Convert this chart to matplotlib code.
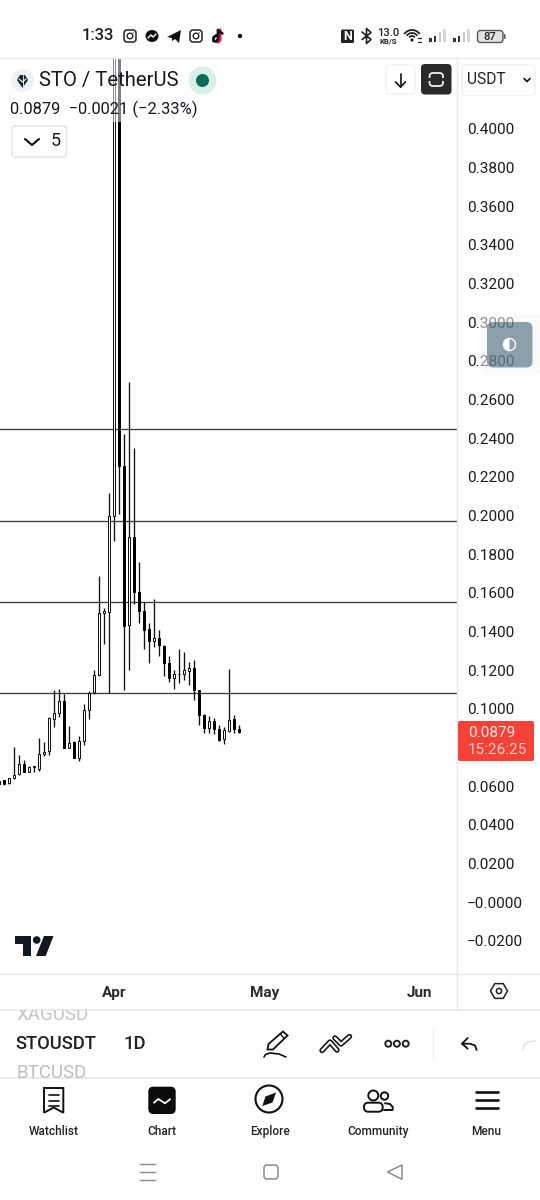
import numpy as np
import pandas as pd
import matplotlib
matplotlib.use("Agg")
import matplotlib.pyplot as plt
import matplotlib.dates as mdates
from matplotlib.patches import Rectangle, Circle, FancyBboxPatch, Polygon, Wedge, Arc, Ellipse

plt.rcParams['font.family'] = ['Roboto', 'DejaVu Sans']

opens = [.0626,.0631,.0614,.0640,.0662,.0717,.0674,.0698,.0691,.0765,.0781,.0950,.0981,.1039,.0798,.0829,.0748,.0832,.0993,.1086,
         .1174,.1498,.1501,.1996,.4800,.2254,.1432,.1889,.1604,.1504,.1411,.1351,.1366,.1325,.1239,.1162,.1182,.1182,.1198,
         .1213,.1096,.0970,.0903,.0936,.0894,.0843,.0886,.0946,.0898]
closes = [.0610,.0610,.0640,.0660,.0717,.0674,.0700,.0702,.0769,.0779,.0953,.0981,.1039,.0800,.0826,.0748,.0832,.0993,.1084,.1174,
          .1498,.1506,.1996,.4800,.2254,.1428,.1889,.1604,.1506,.1410,.1351,.1365,.1329,.1239,.1162,.1182,.1180,.1199,.1213,
          .1096,.0967,.0903,.0936,.0894,.0838,.0893,.0945,.0898,.0879]
highs = [.0628,.0633,.0641,.0803,.0764,.0738,.0705,.0703,.0851,.0829,.0958,.1100,.1105,.1075,.0911,.0832,.0860,.1027,.1091,.1199,
         .1687,.1524,.2118,.4900,.5000,.2420,.2690,.2351,.1759,.1553,.1446,.1570,.1406,.1329,.1273,.1199,.1312,.1294,.1242,
         .1251,.1100,.0976,.0962,.0955,.0919,.0906,.1205,.0967,.0915]
lows = [.0605,.0605,.0613,.0636,.0659,.0672,.0671,.0671,.0677,.0756,.0760,.0906,.0958,.0796,.0796,.0747,.0729,.0812,.0950,.1079,
        .1171,.1337,.1084,.1866,.2006,.1100,.1199,.1544,.1445,.1312,.1237,.1320,.1273,.1168,.1139,.1105,.1134,.1151,.1126,
        .1048,.0915,.0875,.0875,.0872,.0832,.0820,.0880,.0875,.0876]
start_date = "2025-03-09"
hlines = [0.2448, 0.1972, 0.1553, 0.1080]
price_ticks = [0.40,0.38,0.36,0.34,0.32,0.30,0.28,0.26,0.24,0.22,0.20,0.18,0.16,0.14,0.12,0.10,0.06,0.04,0.02,0.0,-0.02]
price_labels = ["0.4000","0.3800","0.3600","0.3400","0.3200","0.3000","0.2800","0.2600","0.2400","0.2200","0.2000",
                "0.1800","0.1600","0.1400","0.1200","0.1000","0.0600","0.0400","0.0200","\u22120.0000","\u22120.0200"]

W, H = 540, 1200
fig = plt.figure(figsize=(5.4, 12), dpi=100, facecolor="white")
ax = fig.add_axes([0, (H-973)/H, 456.5/W, 915/H])
dates = pd.date_range(start_date, periods=len(opens))
x = mdates.date2num(dates)
o, c, h, l = map(np.array, (opens, closes, highs, lows))
ax.vlines(x, l, h, color="#111111", lw=0.95, zorder=2)
up = c >= o
ax.bar(x[up], (c-o)[up], bottom=o[up], width=0.47, facecolor="white", edgecolor="#111111", lw=0.72, zorder=3)
ax.bar(x[~up], (c-o)[~up], bottom=o[~up], width=0.47, facecolor="#000000", edgecolor="#000000", lw=0.72, zorder=3)
for v in hlines:
    ax.axhline(v, color="#3c3c3c", lw=0.95, zorder=1)
ax.set_ylim(-0.03663, 0.4367)
ax.yaxis.tick_right()
ax.set_yticks(price_ticks)
ax.set_yticklabels(price_labels, fontsize=11.1, color="#1c1c1c")
ax.tick_params(axis="y", length=0, pad=7.6)
ax.xaxis.set_major_locator(mdates.MonthLocator())
ax.xaxis.set_major_formatter(mdates.DateFormatter("%b"))
ax.tick_params(axis="x", length=0, pad=9.2, labelsize=11, labelcolor="#2a2a2a")
apr1 = mdates.date2num(pd.Timestamp("2025-04-01"))
ax.set_xlim(apr1-114.3/5, apr1+(456.5-114.3)/5)
for t in ax.get_xticklabels():
    t.set_fontweight("bold")
for s in ax.spines.values():
    s.set_visible(False)
ax.patch.set_alpha(0)

# overlay in pixel coordinates
ov = fig.add_axes([0, 0, 1, 1], zorder=5)
ov.set_xlim(0, W); ov.set_ylim(H, 0); ov.axis("off"); ov.patch.set_alpha(0)

INK = "#131722"
def rr(x0, y0, x1, y1, r=3, fc="none", ec="none", lw=1, alpha=None, z=3):
    p = FancyBboxPatch((x0+r, y0+r), x1-x0-2*r, y1-y0-2*r, boxstyle=f"round,pad={r},rounding_size={r}",
                       fc=fc, ec=ec, lw=lw, alpha=alpha, zorder=z, mutation_aspect=1)
    ov.add_patch(p); return p
def line(xs, ys, color="#111111", lw=1.2, z=4, **k):
    ov.plot(xs, ys, color=color, lw=lw, zorder=z, solid_capstyle="round", solid_joinstyle="round", **k)
def txt(x, y, s, size=11, color="#131722", ha="left", weight="normal", z=6, **k):
    return ov.text(x, y, s, fontsize=size, color=color, ha=ha, va="center", fontweight=weight, zorder=z, **k)

# frame lines
SEP = "#e9e9e9"
line([0, W], [58, 58], SEP, 1.0, 2)
line([457, 457], [58, 1009], SEP, 1.0, 2)
line([0, W], [973.5, 973.5], SEP, 1.0, 2)
line([0, W], [1009.5, 1009.5], SEP, 1.2, 2)
line([0, W], [1078, 1078], SEP, 1.2, 2)

# status bar
txt(97.5, 36, "1:33", 12, "#222222", ha="center", weight="medium")
for cx in (130, 196):
    rr(cx-6, 30, cx+6, 42, r=3, ec="#222222", lw=1.1)
    ov.add_patch(Circle((cx, 36), 2.8, fc="none", ec="#222222", lw=1.0, zorder=4))
    ov.add_patch(Circle((cx+3.2, 32.8), 0.6, fc="#222222", ec="none", zorder=4))
ov.add_patch(Ellipse((152, 36), 13, 12, fc="#111111", ec="none", zorder=4))
line([148, 151, 153, 156], [38, 35, 37, 34], "white", 1.0, 5)
ov.add_patch(Polygon([[167, 37], [181, 30], [179, 43], [175, 39], [172, 41], [172, 38]], fc="#111111", ec="none", zorder=4))
line([220, 220, 218], [30, 40, 42], "#ee1d52", 2.3, 3)
line([218, 218, 216, 213.5, 213.5, 216], [30, 39, 41.5, 41, 37.5, 35.5], "#111111", 2.0, 4)
line([218.5, 222.5], [31, 33.5], "#111111", 1.8, 4)
ov.add_patch(Circle((240, 36), 2.2, fc="#111111", ec="none", zorder=4))
# right status
rr(341, 29.5, 354, 43, r=1.5, fc="#222222")
txt(347.5, 36.5, "N", 9, "white", ha="center", weight="bold")
line([362, 371, 366.5, 366.5, 371, 362], [32, 39.5, 43.5, 28.5, 32.5, 39.5], "#222222", 1.2)
txt(388, 33, "13.0", 8, "#222222", ha="center", weight="medium")
txt(388.5, 41.5, "KB/S", 5.6, "#222222", ha="center", weight="bold")
for r_ in (9.5, 6.5, 3.5):
    ov.add_patch(Arc((412, 39.5), r_*2, r_*2, theta1=215, theta2=325, ec="#222222", lw=1.3, zorder=4))
ov.add_patch(Circle((412, 40), 1.6, fc="#222222", ec="none", zorder=4))
line([418, 421], [37.5, 37.5], "#222222", 0.9); line([418, 421], [41.5, 41.5], "#222222", 0.9)
for base in (429, 453):
    for i, (hh, col) in enumerate(((4, "#333333"), (6, "#333333"), (10, "#c9c9c9"), (13, "#d5d5d5"))):
        ov.add_patch(Rectangle((base + i*4.8, 42-hh), 2.6, hh, fc=col, ec="none", zorder=4))
rr(477.5, 30.5, 503, 42.5, r=3, ec="#555555", lw=1.0, fc="#e3e3e3")
rr(504, 34, 505.5, 39, r=0.7, fc="#555555")
txt(490, 36.5, "87", 8, "#222222", ha="center", weight="medium")

# legend overlay (semi-transparent over candles)
ov.add_patch(Rectangle((105, 59), 90, 63, fc="white", alpha=0.5, ec="none", zorder=2))
ov.add_patch(Circle((22.5, 80.5), 11.5, fc="#eef1f7", ec="none", zorder=3))
ov.add_patch(Polygon([[17, 80], [20, 75], [25, 75], [28, 80], [22.5, 88]], fc="#222222", ec="none", zorder=4))
line([19, 22.5, 26], [79, 82, 79], "white", 0.8, 5); line([22.5, 22.5], [75, 87], "white", 0.6, 5)
txt(39, 80.5, "STO / TetherUS", 14.6, INK)
ov.add_patch(Circle((202.5, 80.5), 14, fc="#d9efea", ec="none", zorder=3))
ov.add_patch(Circle((202.5, 80.5), 6.5, fc="#0b6b58", ec="none", zorder=4))
txt(10, 109, "0.0879  \u22120.0021 (\u22122.33%)", 11.9, INK)
rr(12, 126, 66.5, 157, r=3, fc="white", ec="#e4e4e4", lw=1.0)
line([25, 32, 39], [139, 145, 139], "#111111", 1.5)
txt(56, 141.5, "5", 13, INK, ha="center")

# right buttons
rr(386, 65, 415, 94, r=4, fc="white", ec="#f0f0f0", lw=1.0)
line([400.5, 400.5], [74, 87], "#111111", 1.2); line([395.5, 400.5, 405.5], [82, 87, 82], "#111111", 1.2)
rr(421, 64, 451.5, 94.5, r=4, fc="#2a2a2a")
rr(429.5, 73, 443, 86, r=3.5, ec="#f0f0f0", lw=1.3, z=4)
ov.add_patch(Rectangle((427, 78), 18, 3, fc="#2a2a2a", ec="none", zorder=5))
rr(462, 65, 535, 95.5, r=4, fc="white", ec="#f0f0f0", lw=1.0)
txt(467, 79.5, "USDT", 11.2, "#222222")
line([524, 527, 530], [78.5, 81.5, 78.5], "#111111", 1.2)

# floating theme button
rr(480, 314, 545, 375, r=10, fc="#f6f7f8", ec="none", alpha=0.55, z=1)
rr(487, 322, 532.5, 367.5, r=6, fc="#1d475d", alpha=0.5, z=7)
ov.add_patch(Circle((509.5, 344.5), 6, fc="none", ec="white", lw=1.0, zorder=8))
ov.add_patch(Wedge((509.5, 344.5), 6, 90, 270, fc="white", ec="none", zorder=8))

# last price badge
rr(458, 721, 534, 761, r=2, fc="#f44336")
txt(468, 733, "0.0879", 11, "#ffe9e6")
txt(468, 750.5, "15:26:25", 11, "#ffd0ca")

# tradingview logo
ov.add_patch(Polygon([[15, 936], [31, 936], [31, 956], [22.7, 956], [22.7, 944.3], [15, 944.3]], fc="#131722", ec="none", zorder=4))
ov.add_patch(Circle((36.7, 940), 3.8, fc="#131722", ec="none", zorder=4))
ov.add_patch(Polygon([[44, 936], [53.5, 936], [45.7, 956], [36, 956]], fc="#131722", ec="none", zorder=4))

# settings hexagon
hexx = [499+8.5*np.cos(a) for a in np.deg2rad([0, 60, 120, 180, 240, 300])]
hexy = [991+8.5*np.sin(a) for a in np.deg2rad([0, 60, 120, 180, 240, 300])]
ov.add_patch(Polygon(np.c_[hexx, hexy], fc="none", ec="#222222", lw=1.1, zorder=4))
ov.add_patch(Circle((499, 991), 2.6, fc="none", ec="#222222", lw=1.1, zorder=4))

# symbol picker strip
clip_a = Rectangle((0, 1010), W, 68, transform=ov.transData)
t1 = txt(16, 1014.5, "XAGUSD", 13.5, "#c4c4c4")
t2 = txt(16, 1073.5, "BTCUSD", 13.5, "#bdbdbd")
for t_ in (t1, t2):
    t_.set_clip_on(True); t_.set_clip_path(clip_a)
txt(15.5, 1044, "STOUSDT", 13.2, "#222222", weight="medium")
txt(123, 1044, "1D", 13.2, "#222222", weight="medium")
# pen
ov.add_patch(Polygon([[267.5, 1049.5], [268.5, 1044], [283, 1031.5], [287.5, 1035.5], [273, 1049.5]], fc="none", ec="#111111", lw=1.3, zorder=4))
line([280, 284.5], [1033.7, 1038.7], "#111111", 1.0)
line([264, 265.5, 270, 279, 286], [1057, 1054.5, 1053, 1054, 1057], "#111111", 1.2)
# trend chevrons
line([322, 330, 337], [1050.5, 1042, 1050], "#111111", 3.9)
line([322, 330, 337], [1050.5, 1042, 1050], "white", 1.6, 5)
line([335, 341, 349.5], [1038, 1044, 1036.5], "#111111", 3.9)
line([335, 341, 349.5], [1038, 1044, 1036.5], "white", 1.6, 5)
for cx in (388.3, 396.9, 405.7):
    ov.add_patch(Circle((cx, 1043.7), 3.0, fc="none", ec="#222222", lw=1.4, zorder=4))
line([432.7, 432.7], [1030, 1058], "#eeeeee", 1.0, 2)
line([467.7, 462, 467.7], [1038, 1043.7, 1048.7], "#111111", 1.3)
line([462, 470, 475, 476.7], [1043.7, 1043.7, 1045.5, 1050], "#111111", 1.3)
line([523, 524, 529, 535], [1050, 1045, 1041.5, 1041], "#e2e2e2", 1.1)

# bottom nav
nav_x = [54, 162, 270, 378, 486]
nav_labels = ["Watchlist", "Chart", "Explore", "Community", "Menu"]
for nx, lab in zip(nav_x, nav_labels):
    txt(nx, 1131.5, lab, 8.6, "#222222", ha="center", weight="medium")
ov.add_patch(Polygon([[44, 1088], [63.3, 1088], [63.3, 1112.7], [53.7, 1107.5], [44, 1112.7]], fc="none", ec="#111111", lw=1.4, zorder=4))
for yy in (1095, 1100.5, 1106):
    line([48.5, 59], [yy, yy], "#111111", 1.2)
rr(148.3, 1086.7, 175.7, 1114, r=5, fc="#0c0c0c")
line([154, 158.3, 165, 170], [1102.7, 1099, 1103.3, 1099.3], "white", 1.3, 5)
ov.add_patch(Circle((269, 1099), 13.5, fc="none", ec="#111111", lw=1.5, zorder=4))
ov.add_patch(Polygon([[262.3, 1106], [265.5, 1096.5], [276, 1092.5], [272.5, 1102.5]], fc="#111111", ec="none", zorder=4))
ov.add_patch(Circle((373.3, 1095.5), 5, fc="none", ec="#111111", lw=1.4, zorder=4))
ov.add_patch(Circle((384.5, 1096), 3.7, fc="none", ec="#111111", lw=1.4, zorder=4))
line([385, 390, 392.7, 392.7, 384], [1103.3, 1104, 1107, 1110, 1110], "#111111", 1.4)
rr(364, 1102.7, 382.7, 1111.7, r=4.3, fc="white", ec="#111111", lw=1.4, z=5)
for yy in (1092.3, 1100, 1108.3):
    line([475.5, 498], [yy, yy], "#111111", 1.9)

# system nav
for yy in (1164, 1172, 1180):
    line([140, 155], [yy, yy], "#8a8a8a", 1.0)
rr(264, 1165, 278, 1179, r=3, ec="#8a8a8a", lw=1.1)
ov.add_patch(Polygon([[387.5, 1172], [402, 1165], [402, 1179.3]], fc="none", ec="#8a8a8a", lw=1.1, zorder=4))

fig.savefig("out.png", dpi=100)
